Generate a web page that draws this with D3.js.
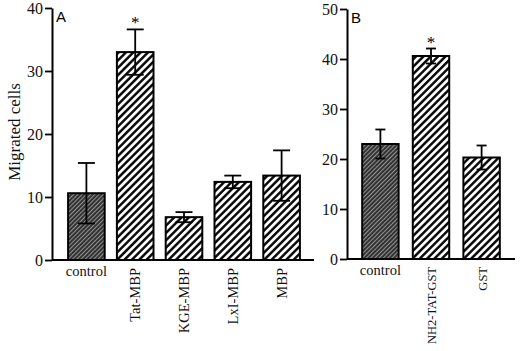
<!DOCTYPE html>
<html>
<head>
<meta charset="utf-8">
<script src="https://cdn.jsdelivr.net/npm/d3@7"></script>
<style>
  body { margin: 0; background: #fff; }
</style>
</head>
<body>
<div class="canva"></div>
<script>
// panel A
const catsA = ["control", "Tat-MBP", "KGE-MBP", "LxI-MBP", "MBP"]
const valsA = [10.6, 33.0, 6.8, 12.4, 13.4]
const errA = [4.8, 3.6, 0.8, 1.0, 4.0]
const ticksA = [0, 10, 20, 30, 40]
const starA = ["Tat-MBP"]

// panel B
const catsB = ["control", "NH2-TAT-GST", "GST"]
const valsB = [23.0, 40.6, 20.3]
const errB = [2.9, 1.5, 2.4]
const ticksB = [0, 10, 20, 30, 40, 50]
const starB = ["NH2-TAT-GST"]

const SERIF = '"Liberation Serif", "DejaVu Serif", serif'
const SANS = '"Liberation Sans", Arial, sans-serif'

const svg = d3.select('.canva').append('svg')
    .attr('width', 520)
    .attr('height', 351)

const defs = svg.append('defs')
// open hatch
const ph = defs.append('pattern').attr('id', 'hatch')
    .attr('patternUnits', 'userSpaceOnUse')
    .attr('width', 5.2).attr('height', 5.2)
    .attr('patternTransform', 'rotate(45)')
ph.append('rect').attr('width', 5.2).attr('height', 5.2).attr('fill', '#fff')
ph.append('line').attr('x1', 1.3).attr('y1', 0).attr('x2', 1.3).attr('y2', 5.2)
    .attr('stroke', '#000').attr('stroke-width', 2.4)
// dense dark hatch for controls
const pd = defs.append('pattern').attr('id', 'dark')
    .attr('patternUnits', 'userSpaceOnUse')
    .attr('width', 3).attr('height', 3)
    .attr('patternTransform', 'rotate(45)')
pd.append('rect').attr('width', 3).attr('height', 3).attr('fill', '#2e2e2e')
pd.append('line').attr('x1', 0.6).attr('y1', 0).attr('x2', 0.6).attr('y2', 3)
    .attr('stroke', '#9a9a9a').attr('stroke-width', 1)

function panel(cfg) {
    const x = d3.scaleBand().domain(cfg.cats).range(cfg.xr)
        .paddingInner(cfg.pi).paddingOuter(cfg.po)
    const y = d3.scaleLinear().domain([0, d3.max(cfg.ticks)]).range(cfg.yr)
    const g = svg.append('g')
    const rows = cfg.cats.map((c, i) => ({c: c, v: cfg.vals[i], e: cfg.errs[i], i: i}))
    const mid = d => x(d.c) + x.bandwidth() / 2

    // bars
    g.selectAll('rect.bar').data(rows).enter().append('rect')
        .attr('class', 'bar')
        .attr('x', d => x(d.c))
        .attr('y', d => y(d.v))
        .attr('width', x.bandwidth())
        .attr('height', d => y(0) - y(d.v))
        .attr('fill', d => d.i == 0 ? 'url(#dark)' : 'url(#hatch)')
        .attr('stroke', '#000')
        .attr('stroke-width', 2)

    // error bars
    const cw = cfg.cap
    const eb = g.selectAll('g.err').data(rows).enter().append('g')
        .attr('stroke', '#000').attr('stroke-width', 1.8)
    eb.append('line')
        .attr('x1', mid).attr('x2', mid)
        .attr('y1', d => y(d.v + d.e)).attr('y2', d => y(d.v - d.e))
    eb.append('line')
        .attr('x1', d => mid(d) - cw / 2).attr('x2', d => mid(d) + cw / 2)
        .attr('y1', d => y(d.v + d.e)).attr('y2', d => y(d.v + d.e))
    eb.append('line')
        .attr('x1', d => mid(d) - cw / 2).attr('x2', d => mid(d) + cw / 2)
        .attr('y1', d => y(d.v - d.e)).attr('y2', d => y(d.v - d.e))

    // asterisks
    g.selectAll('text.star').data(rows.filter(d => cfg.stars.includes(d.c))).enter()
        .append('text')
        .attr('x', mid)
        .attr('y', d => y(d.v + d.e) - 1)
        .attr('text-anchor', 'middle')
        .attr('font-family', SERIF)
        .attr('font-size', 17)
        .text('*')

    // y axis
    const ax = g.append('g')
        .attr('transform', `translate(${cfg.ax},0)`)
        .call(d3.axisLeft(y).tickValues(cfg.ticks).tickSize(7).tickSizeOuter(0).tickPadding(2))
    ax.select('.domain').attr('stroke-width', 2)
    ax.selectAll('.tick line').attr('stroke-width', 1.8)
    ax.selectAll('.tick text').attr('font-size', 16)
        .attr('font-family', SERIF).attr('fill', '#111')

    // baseline
    g.append('line')
        .attr('x1', cfg.ax).attr('x2', cfg.xend)
        .attr('y1', y(0)).attr('y2', y(0))
        .attr('stroke', '#000').attr('stroke-width', 2)

    // category labels
    g.selectAll('text.cat').data(rows).enter().append('text')
        .attr('font-family', SERIF)
        .attr('fill', '#111')
        .attr('font-size', d => d.i == 0 ? 14.5 : cfg.lf)
        .attr('text-anchor', d => d.i == 0 ? 'middle' : 'end')
        .attr('transform', d => d.i == 0
            ? `translate(${mid(d)},${y(0) + 16})`
            : `translate(${mid(d) + 5},${y(0) + 8}) rotate(-90)`)
        .text(d => d.c)

    // panel letter
    g.append('text')
        .attr('x', cfg.ax + 4).attr('y', y(cfg.ticks[cfg.ticks.length - 1]) + 14)
        .attr('font-family', SANS)
        .attr('font-size', 15)
        .text(cfg.letter)
}

panel({cats: catsA, vals: valsA, errs: errA, ticks: ticksA, stars: starA,
    xr: [62, 306], pi: 0.25, po: 0.125, yr: [260, 8], ax: 52, xend: 314,
    cap: 17, lf: 14.5, letter: 'A'})
panel({cats: catsB, vals: valsB, errs: errB, ticks: ticksB, stars: starB,
    xr: [347, 515], pi: 0.28, po: 0.3, yr: [259, 9], ax: 347, xend: 515,
    cap: 10, lf: 12.5, letter: 'B'})

svg.append('text')
    .attr('transform', 'translate(20,132) rotate(-90)')
    .attr('text-anchor', 'middle')
    .attr('font-family', SERIF)
    .attr('font-size', 17)
    .attr('fill', '#111')
    .text('Migrated cells')
</script>
</body>
</html>
